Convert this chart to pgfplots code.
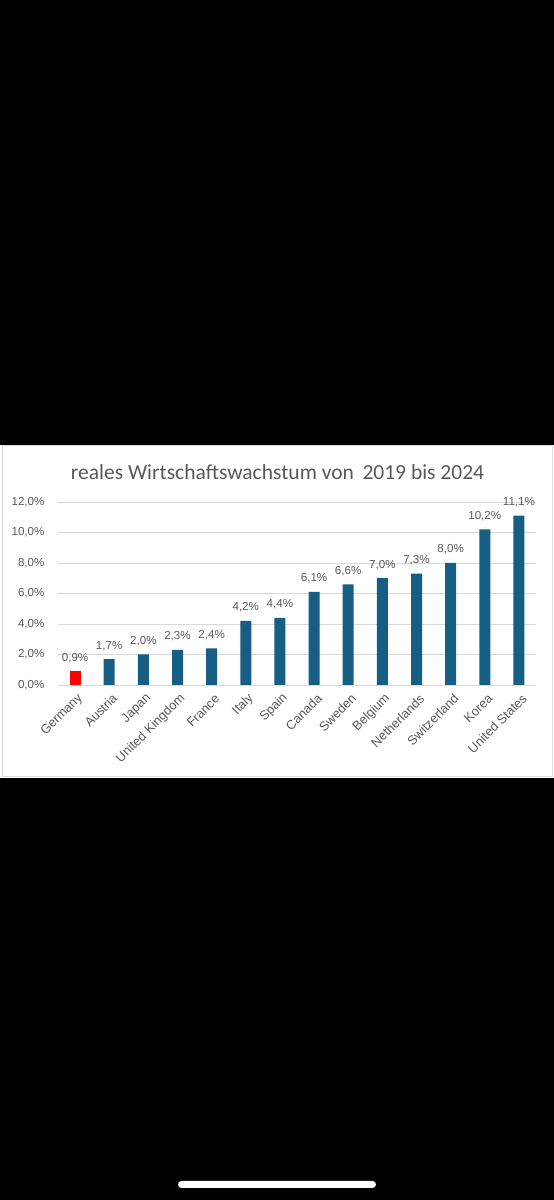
\documentclass[border=0pt]{standalone}
\usepackage{pgfplots}
\pgfplotsset{compat=1.18}
\usepackage{fontspec}
\setmainfont{Liberation Sans}
\newfontfamily\titlefont{Carlito}
\definecolor{barblue}{RGB}{22,94,131}
\definecolor{txtgray}{RGB}{89,89,89}
\definecolor{gridgray}{RGB}{217,217,217}
\begin{document}
\begin{tikzpicture}[x=1pt,y=1pt]
\fill[black] (0,0) rectangle (554,1200);
\fill[white] (0,422) rectangle (554,755);
\draw[gridgray, line width=1pt] (2.5,423.5) rectangle (552.5,754.5);
\fill[white, rounded corners=3.5pt] (178,12) rectangle (376,19);
\node[font=\titlefont\fontsize{21.5}{25}\selectfont, text=txtgray] at (277.5,728) {reales Wirtschaftswachstum von\hspace{0.4em}2019 bis 2024};
\begin{axis}[
  at={(58pt,515pt)}, anchor=south west,
  scale only axis, width=478pt, height=183pt,
  xmin=-0.5, xmax=13.5, ymin=0, ymax=12,
  ybar, bar width=11pt,
  axis line style={draw=none},
  major tick length=0pt,
  ymajorgrids, grid style={gridgray, line width=0.8pt},
  ytick={0,2,...,12},
  xtick={0,...,13},
  xticklabels={Germany,Austria,Japan,United Kingdom,France,Italy,Spain,Canada,Sweden,Belgium,Netherlands,Switzerland,Korea,United States},
  /pgf/number format/assume math mode=true,
  yticklabel={\pgfmathprintnumber[fixed,fixed zerofill,precision=1,use comma]{\tick}\%},
  yticklabel style={font=\fontsize{11.6}{13}\selectfont, text=txtgray, anchor=east, xshift=-10pt},
  xticklabel style={font=\fontsize{12.8}{14}\selectfont, text=txtgray, rotate=45, anchor=east, inner sep=0pt, xshift=-4pt, yshift=-12pt},
  nodes near coords={\pgfmathprintnumber[fixed,fixed zerofill,precision=1,use comma]{\pgfplotspointmeta}\%},
  nodes near coords style={font=\fontsize{11.6}{13}\selectfont, text=txtgray, anchor=base, yshift=10pt},
]
\addplot[fill=red, draw=none, bar shift=0pt] coordinates {(0,0.9)};
\addplot[fill=barblue, draw=none, bar shift=0pt] coordinates {
(1,1.7) (2,2.0) (3,2.3) (4,2.4) (5,4.2) (6,4.4) (7,6.1) (8,6.6) (9,7.0) (10,7.3) (11,8.0) (12,10.2) (13,11.1)};
\end{axis}
\end{tikzpicture}
\end{document}
